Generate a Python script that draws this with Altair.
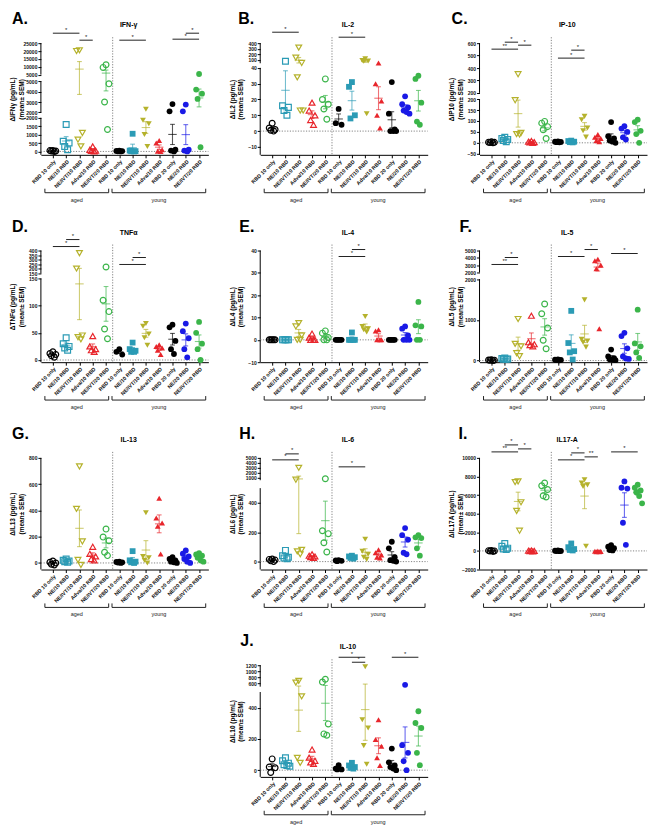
import altair as alt
import pandas as pd

GROUP_LABELS = ["RBD 10 only", "NE/10 RBD", "NE/IVT/10 RBD", "Adva/10 RBD", "NE/IVT/20 RBD",
                "RBD 10 only", "NE/10 RBD", "NE/IVT/10 RBD", "Adva/10 RBD", "RBD 20 only",
                "NE/20 RBD", "NE/IVT/20 RBD"]
COLORS = ["#000000", "#2b9bb5", "#b5b22c", "#e8262c", "#3bb54a", "#000000", "#2b9bb5",
          "#b5b22c", "#e8262c", "#000000", "#1a1ae6", "#3bb54a"]
SHAPES = ["circle", "square", "triangle-down", "triangle-up", "circle", "circle", "square",
          "triangle-down", "triangle-up", "circle", "circle", "circle"]

# ---- values per group (12 groups) ----
ifng = [[30, 50, 0, 20, 60], [1600, 600, 500, 300, 100], [20500, 20000, 1100, 700, 300],
        [300, 100, 50, 0, 30], [11300, 9600, 4750, 3000, 1300], [20, 50, 10, 30, 0],
        [1050, 50, 0, 10, 20], [2300, 1850, 1650, 1000, 300], [650, 500, 100, 20, 0],
        [2800, 2100, 100, 50, 0], [2750, 2100, 100, 50, 0], [5400, 4200, 3800, 3300, 250]]
il2 = [[5, 2, 1, 0, 0.5], [75, 16, 15, 13, 10], [320, 140, 45, 34, 13, 13], [18, 13, 10, 7, 4],
       [33, 20, 17, 14, 7.5], [14, 5, 4], [31, 28, 10, 8], [120, 90, 80, 75, 11],
       [43, 30, 19, 10, 2], [31, 11, 1, 0, 0, 0], [22, 17, 15, 13, 12, 11], [35, 33, 18, 6, 4]]
ip10 = [[5, 3, 2, 0, 1], [25, 20, 15, 10, 5], [350, 195, 45, 40, 38], [8, 5, 3, 2, 0],
        [98, 90, 74, 60, 20], [5, 3, 2, 4, 6], [10, 8, 5, 3, 2], [121, 106, 68, 55, 26],
        [38, 25, 20, 10, 5], [95, 30, 20, 10, 5, 0], [76, 65, 50, 25, 15], [106, 95, 55, 40, 0]]
tnfa = [[15, 12, 8, 5, 10], [41, 30, 25, 22, 18], [371, 204, 45, 42, 38], [44, 25, 20, 18, 15],
        [221, 110, 89, 57, 39], [20, 15, 10], [32, 20, 17, 15, 15], [67, 62, 48, 41, 27],
        [28, 25, 22, 18, 10], [65, 60, 35, 20, 11], [67, 53, 40, 20, 5], [70, 50, 30, 20, 0]]
il4 = [[0, 0, 0, 0, 0], [0, 0, 0, 0, 0], [7.5, 6, 2, 0, 0], [2.8, 1, 0, 0, 0], [4, 3, 1, 0, 0],
       [0, 0, 0, 0, 0], [3.3, 0, 0, 0, 0], [10.5, 6, 5, 4.5, 3.5], [4.5, 4, 0, 0, 0],
       [0, 0, 0, 0, 0], [6, 5, 2, 0, 0, 0], [17, 6.5, 6, 0, 0]]
il5 = [[20, 15, 10, 5, 0], [60, 50, 40, 35, 30], [1020, 410, 350, 180, 107],
       [1100, 450, 400, 380, 350], [1390, 1150, 800, 500, 290], [30, 20, 15, 10, 5],
       [1220, 430, 230, 200, 25], [1490, 520, 480, 450, 330], [3800, 3600, 3000, 2500, 780],
       [270, 100, 60, 30, 20, 10], [680, 600, 300, 100, 50, 40], [1250, 420, 350, 200, 65]]
il13 = [[15, 5, 0, -10, -15], [30, 20, 15, 10, 5], [735, 412, 164, 23, -15], [123, 70, 50, 30, 20],
        [258, 197, 169, 82, 56], [10, 5, 3, 0, 8], [90, 20, 10, 5, 0], [382, 50, 40, 20, 0],
        [492, 343, 305, 280, 69], [44, 30, 20, 10, 5, 0], [95, 70, 50, 30, 10, 0],
        [75, 65, 55, 40, 20, 10]]
il6 = [[17, 15, 10, 5, 0], [76, 40, 30, 25, 20], [3000, 600, 80, 70, 50], [50, 40, 35, 30, 25],
       [800, 210, 190, 128, 65], [10, 8, 5, 3], [40, 35, 30, 25, 20], [152, 70, 50, 30, 15],
       [80, 60, 45, 30, 25], [135, 90, 30, 10, 5, 0], [228, 180, 150, 60, 50],
       [180, 165, 160, 90, 40]]
il17a = [[50, 30, 0, -20, -50], [790, 500, 300, 200, 150], [7470, 7400, 5230, 4300, 2170],
         [50, 20, 0, -20, -50], [7300, 7000, 6600, 5920, 5800], [50, 20, 0, -20, -30],
         [800, 400, 200, 100, 50], [7650, 7300, 7100, 6930, 500], [0, -50, -100, -80, -30],
         [610, 450, 300, 100, 50], [7470, 6790, 6700, 3030, 650],
         [7110, 6800, 6500, 6300, 5900, 5120]]
il10 = [[72, 20, 15, -15], [79, 60, 45, 35, 30, 25], [690, 633, 472, 79, 47], [132, 80, 60, 50, 40],
        [740, 650, 296, 232, 223], [32, 10, 5, 5], [47, 30, 20, 15, 10], [1150, 323, 270, 157, 38],
        [323, 196, 153, 79, 30], [138, 50, 30, 20, 10, 0], [560, 160, 111, 57, 0],
        [377, 302, 270, 111, 32]]

# significance comparisons: (group a, group b, row offset, label)
sig_a = [(0, 2, -10, "*"), (2, 3, -3, "*"), (5, 7, -3, "*"), (10, 11, -10, "*"), (9, 11, -4, "*")]
sig_b = [(0, 2, -11, "*"), (5, 7, -6, "*")]
sig_c = [(1, 2, -1, "*"), (0, 2, 6, "**"), (2, 3, 2, "*"), (6, 7, 7, "*"), (5, 7, 15, "*")]
sig_d = [(1, 2, -11, "*"), (0, 2, -4, "*"), (6, 7, 7, "*"), (5, 7, 14, "*")]
sig_e = [(6, 7, -1, "*"), (5, 7, 6, "*")]
sig_f = [(1, 2, 7, "*"), (0, 2, 14, "**"), (5, 7, 6, "*"), (7, 8, -1, "*"), (9, 11, 3, "*")]
sig_g = []
sig_h = [(1, 2, -4, "*"), (0, 2, 2, "*"), (5, 7, 9, "*")]
sig_i = [(1, 2, -13, "*"), (0, 2, -6, "**"), (2, 3, -9, "*"), (6, 7, -5, "*"), (5, 7, 2, "*"),
         (7, 8, -1, "**"), (9, 11, -6, "*")]
sig_j = [(5, 7, -8, "*"), (6, 7, -3, "*"), (9, 11, -8, "*")]

W, H = 168, 112
FONT = "Liberation Sans"
XDOM = [-0.9, 11.7]
LABEL_EXPR = "[" + ",".join("'%s'" % s for s in GROUP_LABELS) + "][datum.value]"
DUMMY = pd.DataFrame({"a": [0]})

xscale = alt.Scale(domain=XDOM, nice=False, zero=False)
xaxis = alt.Axis(values=list(range(12)), labelExpr=LABEL_EXPR, labelAngle=-45, title=None,
                 grid=False, tickSize=3, labelFontSize=5.3, labelFontWeight="bold",
                 labelPadding=1, domainColor="black", tickColor="black", labelColor="#111",
                 labelOverlap=False)
COLOR = alt.Color("g:N", scale=alt.Scale(domain=list(range(12)), range=COLORS), legend=None)
SHAPE = alt.Shape("g:N", scale=alt.Scale(domain=list(range(12)), range=SHAPES), legend=None)


def X(field=None, datum=None):
    if datum is not None:
        return alt.X(datum=datum, type="quantitative", scale=xscale, axis=xaxis)
    return alt.X(field, type="quantitative", scale=xscale, axis=xaxis)


def make_panel(letter, ldx, title, ytitle, groups, breaks, ticks, sig):
    dom = [b[0] for b in breaks]
    rng = [round(b[1] * H, 2) for b in breaks]
    yscale = alt.Scale(domain=dom, range=rng, nice=False, zero=False)
    yaxis = alt.Axis(values=ticks, format="d", title=[ytitle, "(mean\u00b1 SEM)"], grid=False,
                     domain=False, tickSize=3, labelFontSize=5, labelFontWeight="bold",
                     labelPadding=1, titleFontSize=6.5, titleFontWeight="bold", titleX=-25,
                     titleY=H / 2, labelColor="#111", tickColor="black", titleColor="black",
                     labelOverlap=False)

    def Y(field=None, datum=None):
        if datum is not None:
            return alt.Y(datum=datum, type="quantitative", scale=yscale, axis=yaxis)
        return alt.Y(field, type="quantitative", scale=yscale, axis=yaxis)

    df = pd.DataFrame([{"g": g, "v": v} for g, vals in enumerate(groups) for v in vals])
    layers = []
    # y axis line segments (broken axis)
    segdf = pd.DataFrame({"lo": dom[0::2], "hi": dom[1::2]})
    layers.append(alt.Chart(segdf).mark_rule(color="black", strokeWidth=1)
                  .encode(x=alt.value(0), y=Y("lo"), y2="hi"))
    # zero line
    layers.append(alt.Chart(DUMMY).mark_rule(color="#777", strokeDash=[1.2, 1.5], strokeWidth=0.9)
                  .encode(x=alt.value(0), x2=alt.value(W), y=Y(datum=0)))
    # divider aged / young
    layers.append(alt.Chart(DUMMY).mark_rule(color="#777", strokeDash=[1.2, 1.5], strokeWidth=0.9)
                  .encode(x=X(datum=4.5), y=alt.value(-6), y2=alt.value(H)))
    # points
    pts = (alt.Chart(df)
           .transform_window(idx="row_number()", groupby=["g"],
                             sort=[alt.SortField("v", order="descending")])
           .transform_calculate(xj="datum.g + [0,-0.22,0.22,-0.11,0.11,0.33][(datum.idx-1)%6]"))
    layers.append(pts.transform_filter("datum.g < 5")
                  .mark_point(filled=False, size=34, strokeWidth=1.2, opacity=1)
                  .encode(x=X("xj"), y=Y("v"), color=COLOR, shape=SHAPE))
    layers.append(pts.transform_filter("datum.g >= 5")
                  .mark_point(filled=True, size=34, opacity=1)
                  .encode(x=X("xj"), y=Y("v"), color=COLOR, shape=SHAPE))
    # mean +- SEM
    stats = (alt.Chart(df)
             .transform_aggregate(m="mean(v)", se="stderr(v)", groupby=["g"])
             .transform_calculate(lo="datum.m - datum.se", hi="datum.m + datum.se",
                                  xl="datum.g - 0.32", xr="datum.g + 0.32",
                                  cl="datum.g - 0.18", cr="datum.g + 0.18"))
    eb = dict(strokeWidth=1.1, opacity=0.65)
    layers.append(stats.mark_rule(**eb).encode(x=X("xl"), x2="xr", y=Y("m"), color=COLOR))
    layers.append(stats.mark_rule(**eb).encode(x=X("g"), y=Y("lo"), y2="hi", color=COLOR))
    layers.append(stats.mark_rule(**eb).encode(x=X("cl"), x2="cr", y=Y("lo"), color=COLOR))
    layers.append(stats.mark_rule(**eb).encode(x=X("cl"), x2="cr", y=Y("hi"), color=COLOR))
    # significance bars
    for a, b, dy, lab in sig:
        layers.append(alt.Chart(DUMMY).mark_rule(color="#222", strokeWidth=1)
                      .encode(x=X(datum=a), x2=alt.X2(datum=b), y=alt.value(dy)))
        layers.append(alt.Chart(DUMMY).mark_text(fontSize=6, baseline="bottom", color="#222")
                      .encode(x=X(datum=(a + b) / 2), y=alt.value(dy - 0.5), text=alt.value(lab)))
    # brackets aged / young
    for lo, hi, name in [(-0.6, 4.2, "aged"), (4.45, 11.5, "young")]:
        layers.append(alt.Chart(DUMMY).mark_rule(color="#222", strokeWidth=1)
                      .encode(x=X(datum=lo), x2=alt.X2(datum=hi), y=alt.value(H + 38)))
        for e in (lo, hi):
            layers.append(alt.Chart(DUMMY).mark_rule(color="#222", strokeWidth=1)
                          .encode(x=X(datum=e), y=alt.value(H + 34), y2=alt.value(H + 38)))
        layers.append(alt.Chart(DUMMY).mark_text(fontSize=5.5, baseline="middle", color="#222")
                      .encode(x=X(datum=(lo + hi) / 2), y=alt.value(H + 45), text=alt.value(name)))
    # title and letter
    layers.append(alt.Chart(DUMMY).mark_text(fontSize=7, fontWeight="bold", baseline="middle")
                  .encode(x=alt.value(W / 2 + 4), y=alt.value(-18), text=alt.value(title)))
    layers.append(alt.Chart(DUMMY).mark_text(fontSize=16, fontWeight="bold", align="left",
                                             baseline="alphabetic")
                  .encode(x=alt.value(ldx), y=alt.value(-19), text=alt.value(letter)))
    return alt.layer(*layers).properties(width=W, height=H)


E = 0.001
panels = [
    make_panel("A.", -29, "IFN-\u03b3", "\u0394IFN\u03b3 (pg/mL)", ifng,
               [(-200, 1.0), (2000, 0.668), (2000 + E, 0.620), (5000, 0.341), (5000 + E, 0.282), (25000, 0.0)],
               [0, 500, 1000, 1500, 2000, 2000 + E, 3000, 4000, 5000, 5000 + E, 10000, 15000, 20000, 25000],
               sig_a),
    make_panel("B.", -22, "IL-2", "\u0394IL2 (pg/mL)", il2,
               [(-15, 1.0), (40, 0.221), (40 + E, 0.180), (400, 0.0)],
               [-10, 0, 10, 20, 30, 40, 100, 200, 300, 400], sig_b),
    make_panel("C.", -28, "IP-10", "\u0394IP10 (pg/mL)", ip10,
               [(-55, 1.0), (200, 0.501), (200 + E, 0.445), (600, 0.0)],
               [-50, 0, 50, 100, 150, 200, 200 + E, 300, 400, 500, 600], sig_c),
    make_panel("D.", -29, "TNF\u03b1", "\u0394TNF\u03b1 (pg/mL)", tnfa,
               [(-4, 1.0), (150, 0.25), (150 + E, 0.206), (400, 0.0)],
               [0, 50, 100, 150, 150 + E, 200, 250, 300, 350, 400], sig_d),
    make_panel("E.", -21, "IL-4", "\u0394IL4 (pg/mL)", il4,
               [(-10, 1.0), (40, 0.0)],
               [-10, 0, 10, 20, 30, 40], sig_e),
    make_panel("F.", -20, "IL-5", "\u0394IL5 (pg/mL)", il5,
               [(-40, 1.0), (2000, 0.256), (2000 + E, 0.196), (5000, 0.0)],
               [0, 1000, 2000, 2000 + E, 3000, 4000, 5000], sig_f),
    make_panel("G.", -29, "IL-13", "\u0394IL13 (pg/mL)", il13,
               [(-50, 1.0), (800, 0.0)],
               [0, 200, 400, 600, 800], sig_g),
    make_panel("H.", -21, "IL-6", "\u0394IL6 (pg/mL)", il6,
               [(-54, 1.0), (500, 0.271), (500 + E, 0.2), (5000, 0.0)],
               [0, 200, 400, 1000, 2000, 3000, 4000, 5000], sig_h),
    make_panel("I.", -21, "IL17-A", "\u0394IL17A (pg/mL)", il17a,
               [(-2000, 1.0), (10000, 0.0)],
               [-2000, 0, 2000, 4000, 6000, 8000, 10000], sig_i),
    make_panel("J.", -20, "IL-10", "\u0394IL10 (pg/mL)", il10,
               [(-43, 1.0), (500, 0.240), (500 + E, 0.192), (1200, 0.0)],
               [0, 200, 400, 600, 800, 1000, 1200], sig_j),
]

spacer = (alt.Chart(DUMMY).mark_point(opacity=0)
          .encode(x=alt.X("a:Q", axis=None), y=alt.Y("a:Q", axis=None))
          .properties(width=W, height=H))

chart = (alt.concat(*panels[:9], spacer, panels[9], columns=3,
                    spacing={"row": 96, "column": 52}, bounds="flush")
         .configure(font=FONT, view=alt.ViewConfig(stroke=None))
         .properties(padding={"left": 2, "top": 2, "right": 2, "bottom": 2}))

chart.save("out.html", embed_options={"renderer": "svg", "actions": False})
